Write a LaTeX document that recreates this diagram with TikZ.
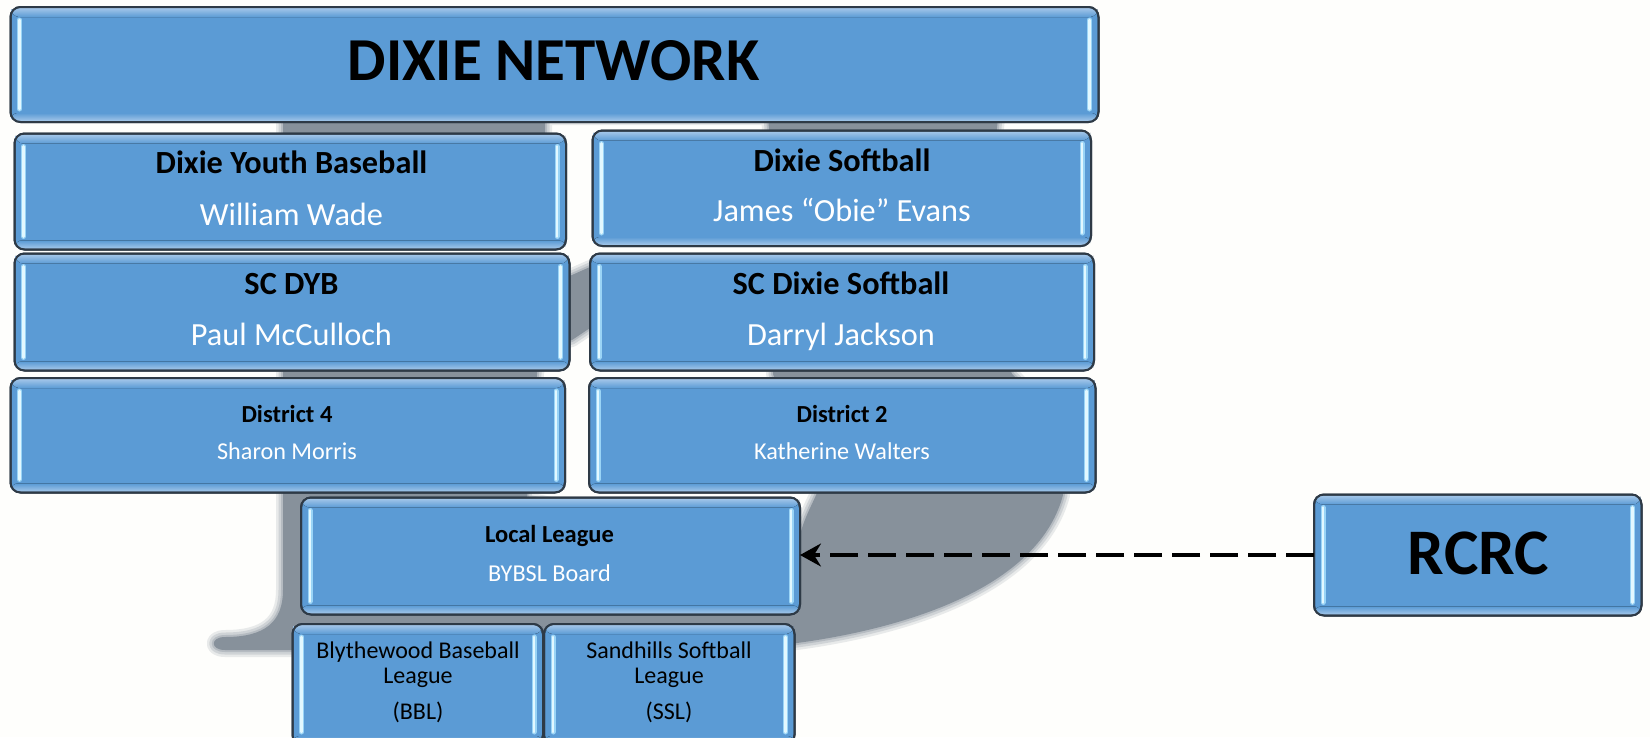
\documentclass[tikz,border=0pt]{standalone}
\usepackage{fontspec}
\setmainfont{Carlito}
\usetikzlibrary{arrows.meta}
\definecolor{boxblue}{HTML}{5B9BD5}
\definecolor{boxedge}{HTML}{2E3A46}
\definecolor{boxtop}{HTML}{A3C6E9}
\definecolor{barout}{HTML}{9AD4F6}
\definecolor{barin}{HTML}{E2F8FF}
\definecolor{wmark}{HTML}{87919B}
\definecolor{paper}{HTML}{FEFEFC}
\tikzset{
  gbox/.style={rectangle,rounded corners=10pt,draw=boxedge,line width=2pt,fill=boxblue,anchor=north west,inner sep=0pt,outer sep=0pt},
  gframe/.style={rounded corners=10pt,draw=boxedge,line width=2pt},
  barO/.style={draw=barout,line width=5pt,line cap=round},
  barI/.style={draw=barin,line width=2.8pt,line cap=round},
  lbl/.style={inner sep=0pt,anchor=base},
  bigt/.style={lbl,yshift=-20pt,font=\fontsize{61}{62}\selectfont\bfseries,text=black},
  bigr/.style={lbl,yshift=-21.5pt,font=\fontsize{65}{66}\selectfont\bfseries,text=black},
  headt/.style={lbl,yshift=-10.5pt,font=\fontsize{32.3}{33}\selectfont\bfseries,text=black},
  namet/.style={lbl,yshift=-10.5pt,font=\fontsize{32.3}{33}\selectfont,text=white},
  smallh/.style={lbl,yshift=-8pt,font=\fontsize{24.5}{25}\selectfont\bfseries,text=black},
  smalln/.style={lbl,yshift=-8pt,font=\fontsize{24.2}{25}\selectfont,text=white},
  leaguet/.style={lbl,yshift=-8pt,font=\fontsize{24}{25}\selectfont,text=black},
  link/.style={draw=black,line width=3.2pt,dash pattern=on 28pt off 10pt,-{Stealth[length=21pt,width=23pt,inset=7pt]}}
}
% name, x1, y1, x2, y2
\newcommand{\gbx}[5]{%
  \pgfmathsetmacro{\bw}{#4-#2}\pgfmathsetmacro{\bh}{#5-#3}%
  \node[gbox,minimum width=\bw pt,minimum height=\bh pt] (#1) at (#2,#3) {};
  \fill[top color=boxtop,bottom color=boxblue,rounded corners=8pt] (#2+1,#3+1) rectangle (#4-1,#3+10);
  \fill[top color=boxblue,bottom color=boxtop,rounded corners=6pt] (#2+1,#5-9) rectangle (#4-1,#5-1);
  \draw[barO] (#2+9,#3+13) -- (#2+9,#5-13);
  \draw[barI] (#2+9,#3+13) -- (#2+9,#5-13);
  \draw[barO] (#4-9,#3+13) -- (#4-9,#5-13);
  \draw[barI] (#4-9,#3+13) -- (#4-9,#5-13);
  \draw[gframe] (#2,#3) rectangle (#4,#5);
}
\newcommand{\wmarkpath}{
  (283,118) -- (283,590) .. controls (283,622) and (265,637) .. (225,637)
  .. controls (210,637) and (210,650) .. (225,650) -- (700,650)
  .. controls (800,650) and (1030,620) .. (1063,495)
  .. controls (1060,440) and (1040,400) .. (1012,374)
  .. controls (1000,340) and (990,280) .. (985,250) -- (998,118) -- cycle
  (545,110) -- (768,110) -- (775,262) -- (590,267) -- (572,275) -- (545,285) -- cycle
  (540,348) -- (572,340) -- (590,328) -- (775,322) -- (773,374) .. controls (790,420) and (815,460) .. (820,485)
  .. controls (815,500) and (805,515) .. (800,535) -- (700,535) -- (527,499) -- (537,374) -- cycle
}
\begin{document}
\begin{tikzpicture}[x=1pt,y=-1pt]
\useasboundingbox (0,0) rectangle (1650,737);
\fill[paper] (0,0) rectangle (1650,737);
% watermark letter with a soft edge
\draw[wmark,opacity=.18,line width=14pt,line join=round] \wmarkpath;
\draw[wmark,opacity=.25,line width=9pt,line join=round] \wmarkpath;
\draw[wmark,opacity=.35,line width=4pt,line join=round] \wmarkpath;
\fill[wmark,even odd rule] \wmarkpath;
\fill[paper] (0,245) rectangle (1110,255);
% boxes
\gbx{title}{10.5}{7}{1098.5}{122}
\gbx{dyb}{14.5}{133.5}{566}{249.5}
\gbx{ds}{592.5}{130.5}{1091}{246}
\gbx{scdyb}{14.5}{253.5}{569.5}{370.5}
\gbx{scds}{590}{253.5}{1094}{370.5}
\gbx{dfour}{10.5}{378}{565}{492.5}
\gbx{dtwo}{589}{378}{1095.5}{492.5}
\gbx{local}{301}{497.5}{800}{614.5}
\gbx{bbl}{292.5}{624}{543}{745}
\gbx{ssl}{544}{624}{794.5}{745}
\gbx{rcrc}{1314}{494.5}{1641.5}{615.5}
% texts
\node[bigt] (ttitle) at (553.5,60) {DIXIE NETWORK};
\node[headt] (tdyb) at (291.5,163) {Dixie Youth Baseball};
\node[namet] (ndyb) at (291.5,214.5) {William Wade};
\node[headt] (tds) at (842,161) {Dixie Softball};
\node[namet] (nds) at (842,210.5) {James “Obie” Evans};
\node[headt] (tscdyb) at (291.5,284) {SC DYB};
\node[namet] (nscdyb) at (291.5,334.5) {Paul McCulloch};
\node[headt] (tscds) at (841,284) {SC Dixie Softball};
\node[namet] (nscds) at (841,334.5) {Darryl Jackson};
\node[smallh] (tdfour) at (287,414.5) {District 4};
\node[smalln] (ndfour) at (287,451.5) {Sharon Morris};
\node[smallh] (tdtwo) at (842,414.5) {District 2};
\node[smalln] (ndtwo) at (842,451.5) {Katherine Walters};
\node[smallh] (tlocal) at (549.5,534.5) {Local League};
\node[smalln] (nlocal) at (549.5,573.5) {BYBSL Board};
\node[leaguet] (tbbl) at (418,650) {Blythewood Baseball};
\node[leaguet] (tbblb) at (418,675.5) {League};
\node[leaguet] (tbblc) at (418,711) {(BBL)};
\node[leaguet] (tssl) at (669,650) {Sandhills Softball};
\node[leaguet] (tsslb) at (669,675.5) {League};
\node[leaguet] (tsslc) at (669,711) {(SSL)};
\node[bigr] (trcrc) at (1478.5,553) {RCRC};
% connector
\draw[link] (rcrc.west) -- (rcrc.west -| local.east);
\end{tikzpicture}
\end{document}
